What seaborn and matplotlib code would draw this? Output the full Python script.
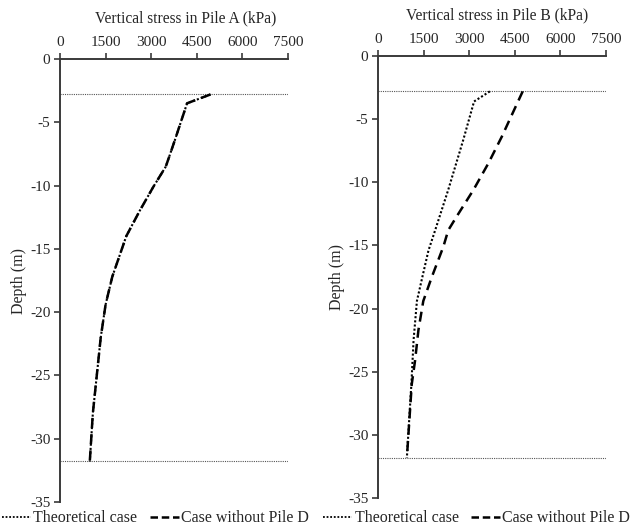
import numpy as np
import pandas as pd
import seaborn as sns
import matplotlib.pyplot as plt
from matplotlib.lines import Line2D

sns.set_theme(style="white")
plt.rcParams['font.family'] = ['Liberation Serif', 'DejaVu Serif']

# Pile A: theoretical case and case without Pile D coincide
depth_a = [-2.8, -3.5, -6.4, -8.5, -10.1, -12.0, -14.0, -17.2, -19.4, -22.0, -25.0, -28.0, -31.8]
stress_a_theory = [4950, 4180, 3780, 3480, 3070, 2620, 2180, 1720, 1500, 1340, 1210, 1080, 980]
stress_a_nod = stress_a_theory

# Pile B
depth_b_theory = [-2.8, -3.6, -6.6, -10.6, -13.8, -15.4, -17.7, -19.4, -22.5, -25.9, -31.8]
stress_b_theory = [3680, 3160, 2810, 2310, 1880, 1660, 1440, 1280, 1170, 1100, 950]
depth_b_nod = [-2.8, -6.4, -8.5, -10.6, -12.7, -13.8, -15.1, -17.5, -19.4, -21.7, -24.1, -26.0, -31.8]
stress_b_nod = [4760, 4070, 3630, 3140, 2590, 2310, 2150, 1770, 1490, 1330, 1220, 1110, 950]

# pile head and toe levels
pile_levels = [-2.8, -31.8]

xticks = [0, 1500, 3000, 4500, 6000, 7500]
yticks = [0, -5, -10, -15, -20, -25, -30, -35]
titles = ["Vertical stress in Pile A (kPa)", "Vertical stress in Pile B (kPa)"]
legend_labels = ["Theoretical case", "Case without Pile D"]

fig = plt.figure(figsize=(6.35, 5.32), dpi=100)
axA = fig.add_axes([60/635, 1-502/532, 228/635, 443/532])
axB = fig.add_axes([378/635, 1-498/532, 228/635, 442/532])

panels = [
    (axA, (stress_a_theory, depth_a), (stress_a_nod, depth_a), titles[0], 0.553),
    (axB, (stress_b_theory, depth_b_theory), (stress_b_nod, depth_b_nod), titles[1], 0.524),
]

spine_col = "#3a3a3a"
for ax, theo, nod, title, tx in panels:
    for lvl in pile_levels:
        ax.plot([0, 7500], [lvl, lvl], color="#555555", lw=0.8, ls=(0, (1, 1)), zorder=1)
    sns.lineplot(x=theo[0], y=theo[1], sort=False, ax=ax, color="black",
                 lw=1.5, ls=(0, (1, 1)), zorder=3)
    sns.lineplot(x=nod[0], y=nod[1], sort=False, ax=ax, color="black",
                 lw=1.8, ls=(0, (4, 2.5)), zorder=3)
    ax.set_xlim(0, 7500)
    ax.set_ylim(-35, 0)
    ax.set_xticks(xticks)
    ax.set_yticks(yticks)
    ax.set_yticklabels([str(v) for v in yticks])
    ax.xaxis.tick_top()
    ax.xaxis.set_label_position("top")
    ax.set_xlabel(title, fontsize=11.2)
    ax.xaxis.set_label_coords(tx, 1.0 + 33/443)
    ax.xaxis.label.set_va("bottom")
    ax.set_ylabel("Depth (m)", fontsize=11.5, labelpad=2)
    for s in ["right", "bottom"]:
        ax.spines[s].set_visible(False)
    for s in ["top", "left"]:
        ax.spines[s].set_color(spine_col)
        ax.spines[s].set_linewidth(1.4)
    ax.tick_params(axis="both", which="major", direction="out", length=4,
                   width=1.2, color=spine_col, labelsize=11, pad=3,
                   left=True, top=True, bottom=False, right=False,
                   labeltop=True, labelbottom=False)
    ax.grid(False)
    ax.set_facecolor("white")

handles = [
    Line2D([], [], color="black", lw=1.3, ls=(0, (1, 1))),
    Line2D([], [], color="black", lw=1.8, ls=(0, (3, 1.5))),
]
for cx in [0.245, 0.751]:
    fig.legend(handles, legend_labels, loc="center", bbox_to_anchor=(cx, 0.026),
               ncol=2, frameon=False, fontsize=11.5, handlelength=1.8,
               handletextpad=0.15, columnspacing=0.8, borderpad=0)

fig.savefig("out.png", dpi=100, facecolor="white")
